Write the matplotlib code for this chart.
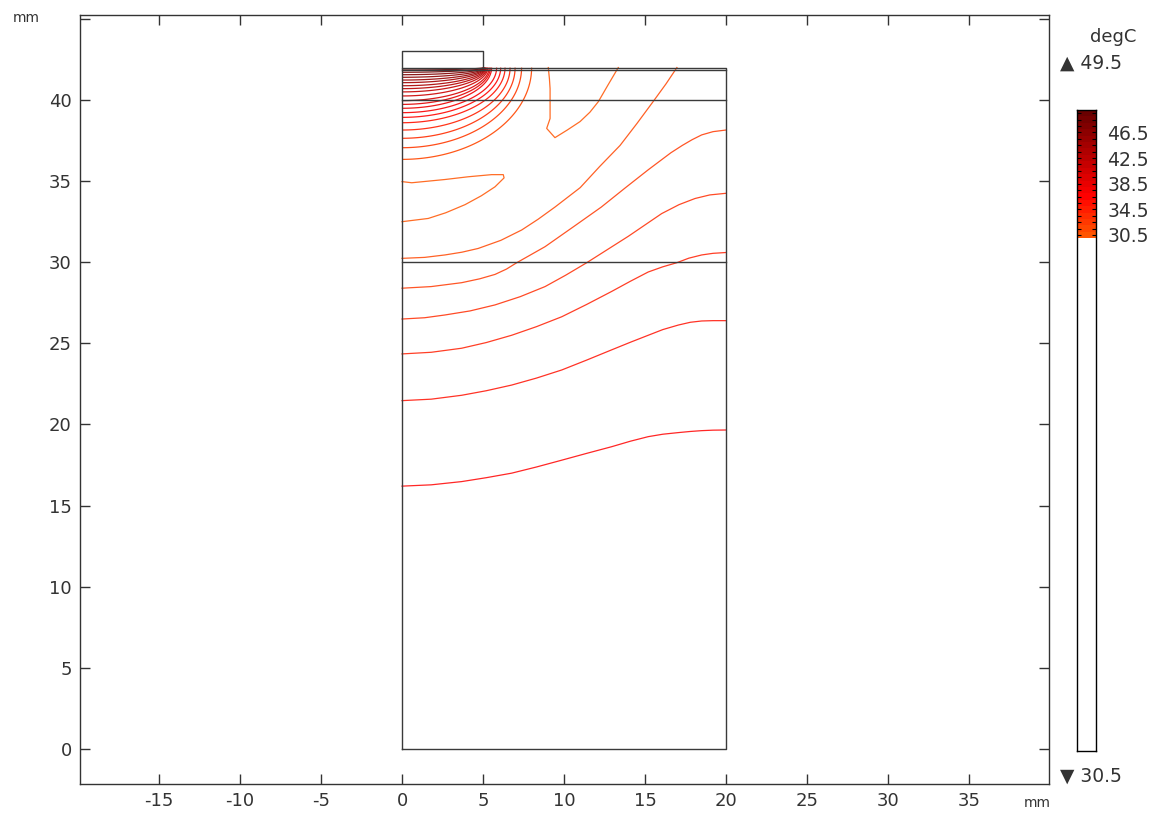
import numpy as np
import matplotlib
matplotlib.use("Agg")
import matplotlib.pyplot as plt
from matplotlib.colors import LinearSegmentedColormap, Normalize

W, H, DPI = 1157, 814, 100

# ---------------------------------------------------------------- data
# contour levels of the temperature field (degC)
levels = [30.5, 31.5, 32.5, 33.5, 34.5, 35.5, 36.5, 37.5, 38.5, 39.5,
          40.5, 41.5, 42.5, 43.5, 44.5, 45.5, 46.5, 47.5, 48.5, 49.5]
legend_ticks = [30.5, 34.5, 38.5, 42.5, 46.5]
t_max = 49.5
t_min = 30.5

# isotherms around the electrode edge: where each one meets the symmetry
# axis (x = 0) and where it meets the top surface (y = 42), in mm
arc_axis_y = [41.85, 41.71, 41.56, 41.40, 41.23, 41.07, 40.88, 40.70, 40.50, 40.25,
              39.96, 39.73, 39.49, 39.22, 38.93, 38.60, 38.15, 37.64, 37.06, 36.34]
arc_top_x = [5.02, 5.04, 5.06, 5.08, 5.10, 5.13, 5.16, 5.20, 5.25, 5.30,
             5.38, 5.45, 5.53, 5.84, 6.09, 6.36, 6.67, 6.98, 7.38, 8.00]
arc_level = [49.5, 48.6, 47.65, 46.7, 45.75, 44.8, 43.85, 42.9, 41.95, 41.0,
             40.05, 39.1, 38.15, 37.2, 36.25, 35.3, 34.35, 33.4, 32.45, 31.5]

# remaining isotherms, traced as (x, y) in mm
iso_v_x = [9.03, 9.10, 9.14, 9.14, 9.14, 8.93, 9.44, 10.2, 10.99, 11.6, 12.12, 12.7, 13.35]
iso_v_y = [42.0, 41.3, 40.7, 39.8, 38.86, 38.25, 37.68, 38.15, 38.67, 39.25, 39.9, 40.9, 42.0]

iso_tongue_x = [0.0, 0.6, 2.65, 4.1, 5.53, 6.25, 6.3, 5.74, 4.9, 3.89, 2.7, 1.62, 0.0]
iso_tongue_y = [34.97, 34.9, 35.1, 35.27, 35.4, 35.4, 35.2, 34.65, 34.1, 33.55, 33.05, 32.7, 32.5]

iso_a_x = [0.0, 1.4, 2.65, 3.7, 4.7, 6.1, 7.39, 8.4, 9.44, 11.0, 12.2, 13.46, 14.5, 15.5, 16.3, 16.97]
iso_a_y = [30.24, 30.3, 30.45, 30.62, 30.85, 31.35, 31.99, 32.65, 33.4, 34.6, 35.9, 37.2, 38.55, 39.9, 41.0, 42.0]

iso_b_x = [0.0, 1.8, 3.68, 4.8, 5.74, 6.45, 7.08, 8.83, 10.6, 12.3, 13.8, 15.2, 16.6, 17.3, 17.9, 18.5, 19.2, 20.0]
iso_b_y = [28.4, 28.5, 28.74, 28.98, 29.25, 29.58, 29.97, 30.96, 32.2, 33.4, 34.6, 35.7, 36.75, 37.2, 37.55, 37.85, 38.05, 38.15]

iso_c_x = [0.0, 1.4, 2.65, 4.2, 5.74, 7.3, 8.83, 10.1, 11.4, 13.97, 16.03, 17.1, 18.09, 19.0, 20.0]
iso_c_y = [26.5, 26.58, 26.75, 27.0, 27.37, 27.88, 28.5, 29.2, 29.97, 31.6, 33.0, 33.55, 33.93, 34.15, 34.25]

iso_d_x = [0.0, 1.8, 3.68, 5.2, 6.77, 8.3, 9.86, 11.4, 12.94, 14.1, 15.2, 16.1, 16.96, 17.7, 18.5, 19.2, 20.0]
iso_d_y = [24.35, 24.45, 24.7, 25.05, 25.5, 26.03, 26.64, 27.4, 28.2, 28.83, 29.4, 29.72, 29.97, 30.25, 30.45, 30.55, 30.6]

iso_e_x = [0.0, 1.8, 3.68, 5.2, 6.77, 8.3, 9.86, 11.4, 12.94, 14.1, 15.2, 16.1, 17.06, 17.8, 18.5, 19.2, 20.0]
iso_e_y = [21.47, 21.56, 21.8, 22.08, 22.43, 22.86, 23.36, 23.97, 24.6, 25.07, 25.5, 25.85, 26.13, 26.3, 26.38, 26.4, 26.4]

iso_f_x = [0.0, 1.8, 3.68, 5.2, 6.77, 8.3, 9.86, 11.4, 12.94, 14.1, 15.2, 16.1, 17.06, 17.8, 18.5, 19.2, 20.0]
iso_f_y = [16.2, 16.28, 16.48, 16.72, 17.0, 17.38, 17.8, 18.22, 18.63, 18.97, 19.25, 19.4, 19.5, 19.57, 19.62, 19.65, 19.66]

traced = [
    (iso_v_x, iso_v_y, 30.5),
    (iso_tongue_x, iso_tongue_y, 30.5),
    (iso_a_x, iso_a_y, 31.5),
    (iso_b_x, iso_b_y, 32.5),
    (iso_c_x, iso_c_y, 33.5),
    (iso_d_x, iso_d_y, 34.5),
    (iso_e_x, iso_e_y, 35.5),
    (iso_f_x, iso_f_y, 36.5),
]

# model geometry (mm)
domain_w, domain_h = 20.0, 42.0
layer_y = [41.85, 40.0, 30.0]
electrode_w, electrode_h = 5.0, 1.0

x_ticks = [-15, -10, -5, 0, 5, 10, 15, 20, 25, 30, 35]
y_ticks = [0, 5, 10, 15, 20, 25, 30, 35, 40, 45]
y_ticklabels = ["0", "5", "10", "15", "20", "25", "30", "35", "40", ""]

# ---------------------------------------------------------------- style
cmap = LinearSegmentedColormap.from_list(
    "heat", [(0.0, "#ff5a00"), (0.33, "#ff0000"), (1.0, "#640000")])
norm = Normalize(30.0, 50.0)
geo_color = "#3a3a3a"
text_color = "#333333"

plt.rcParams["font.family"] = ["DejaVu Sans"]

fig = plt.figure(figsize=(W / DPI, H / DPI), dpi=DPI)
ax = fig.add_axes([80 / W, 1 - 784 / H, (1049 - 80) / W, (784 - 15) / H])
ax.set_xlim(-19.88, 39.94)
ax.set_ylim(-2.16, 45.24)

# isotherms near the electrode edge
t = np.linspace(0.0, np.pi / 2, 80)
for y0, x0, lev in zip(arc_axis_y, arc_top_x, arc_level):
    b = domain_h - y0
    ax.plot(x0 * np.cos(t), domain_h - b * np.sin(t), color=cmap(norm(lev)),
            lw=0.9, alpha=0.9, solid_capstyle="butt", zorder=3)

for xs, ys, lev in traced:
    ax.plot(xs, ys, color=cmap(norm(lev)), lw=0.9, alpha=0.85,
            solid_joinstyle="round", zorder=3)

# geometry outline
ax.plot([0, domain_w, domain_w, 0, 0], [0, 0, domain_h, domain_h, 0],
        color=geo_color, lw=1.0, zorder=4)
for yl in layer_y:
    ax.plot([0, domain_w], [yl, yl], color=geo_color, lw=1.0, zorder=4)
ax.plot([0, 0, electrode_w, electrode_w], [domain_h, domain_h + electrode_h,
        domain_h + electrode_h, domain_h], color=geo_color, lw=1.0, zorder=4)

ax.set_xticks(x_ticks)
ax.set_xticklabels([str(v) for v in x_ticks])
ax.set_yticks(y_ticks)
ax.set_yticklabels(y_ticklabels)
ax.tick_params(direction="in", top=True, right=True, length=7, width=1,
               colors=text_color, labelsize=13, pad=6)
for s in ax.spines.values():
    s.set_color(text_color)
    s.set_linewidth(1.0)

fig.text(26 / W, 1 - 18 / H, "mm", ha="center", va="center", fontsize=10, color=text_color)
fig.text(1037 / W, 1 - 803 / H, "mm", ha="center", va="center", fontsize=10, color=text_color)

# colour legend
cax = fig.add_axes([1077 / W, 1 - 751 / H, 19 / W, (751 - 110) / H])
cax.set_xlim(0, 1)
cax.set_ylim(-50, 50)
edges = [lv - 0.5 for lv in levels] + [levels[-1] + 0.5]
cax.pcolormesh([0, 1], edges, np.array(levels)[:, None], cmap=cmap, norm=norm,
               shading="flat")
cax.set_xticks([])
cax.set_yticks(levels)
cax.set_yticklabels([("%.1f" % v) if v in legend_ticks else "" for v in levels])
cax.yaxis.tick_right()
cax.tick_params(axis="y", direction="in", left=True, right=True, length=3,
                width=0.8, colors="black", labelsize=13.5, pad=8)
for lab in cax.get_yticklabels():
    lab.set_color(text_color)
for s in cax.spines.values():
    s.set_color("black")
    s.set_linewidth(1.0)

fig.text(1113 / W, 1 - 37 / H, "degC", ha="center", va="center", fontsize=13, color=text_color)
fig.text(1060 / W, 1 - 63 / H, "\u25B2 %.1f" % t_max, ha="left", va="center",
         fontsize=13.5, color=text_color)
fig.text(1060 / W, 1 - 776 / H, "\u25BC %.1f" % t_min, ha="left", va="center",
         fontsize=13.5, color=text_color)

fig.savefig("out.png", dpi=DPI)
